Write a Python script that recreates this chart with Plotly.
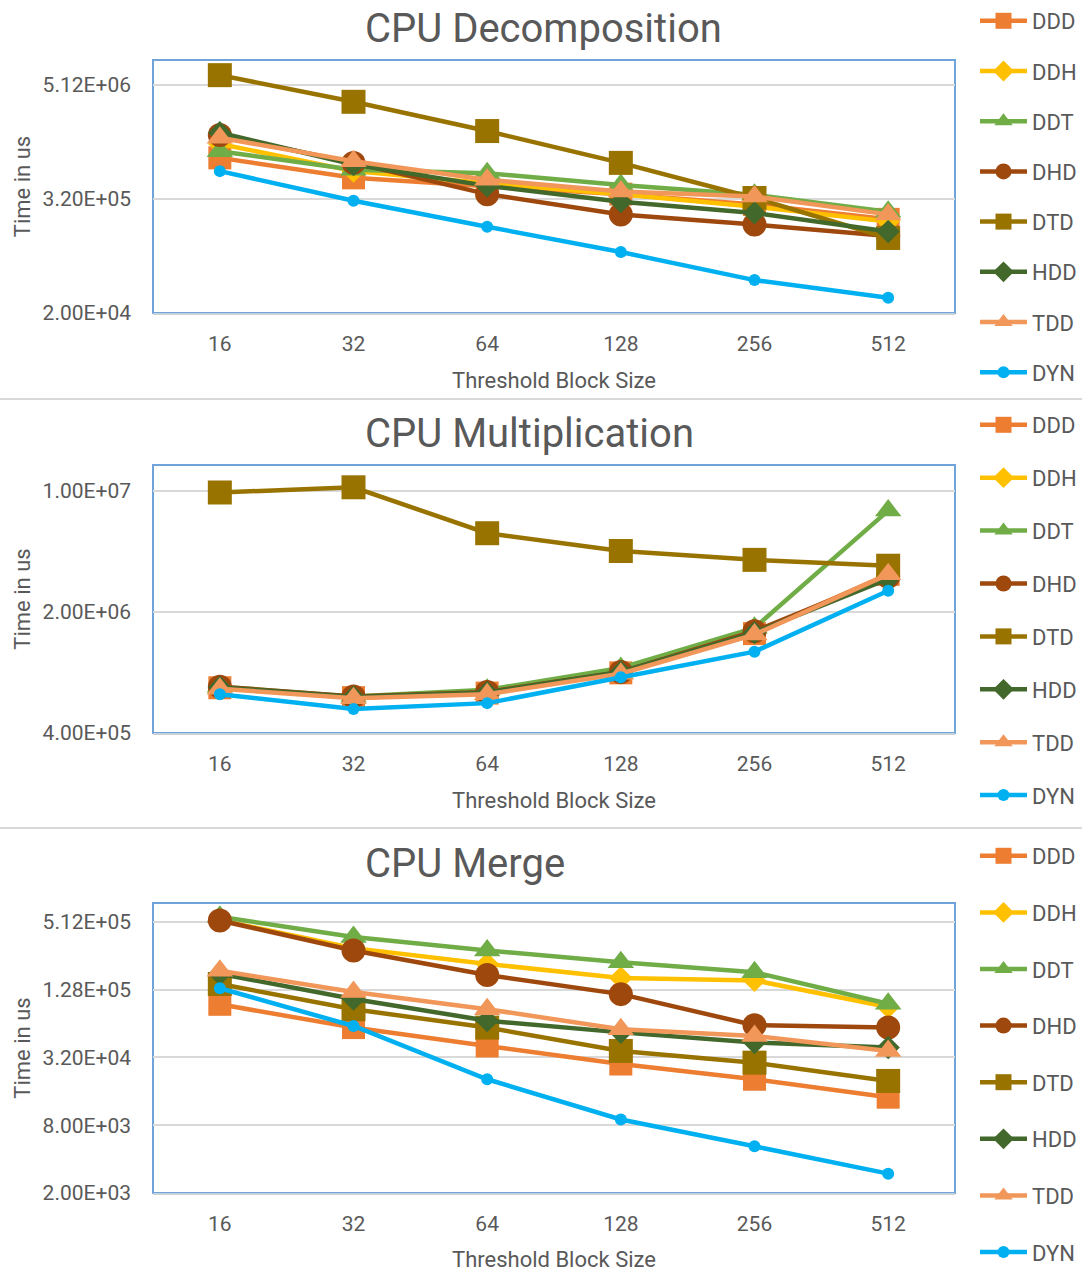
import plotly.graph_objects as go

# ---------------- data ----------------
block_sizes = ["16", "32", "64", "128", "256", "512"]
series_names = ["DDD", "DDH", "DDT", "DHD", "DTD", "HDD", "TDD", "DYN"]

# CPU Decomposition (time in us)
dec_DDD = [8.7e5, 5.35e5, 4.35e5, 3.6e5, 2.8e5, 1.95e5]
dec_DDH = [1.22e6, 6.3e5, 4.7e5, 3.6e5, 2.65e5, 1.85e5]
dec_DDT = [1.02e6, 6.5e5, 6.0e5, 4.5e5, 3.55e5, 2.35e5]
dec_DHD = [1.52e6, 7.7e5, 3.6e5, 2.2e5, 1.72e5, 1.3e5]
dec_DTD = [6.5e6, 3.4e6, 1.67e6, 7.7e5, 3.28e5, 1.24e5]
dec_HDD = [1.6e6, 7.4e5, 4.4e5, 3.0e5, 2.28e5, 1.45e5]
dec_TDD = [1.42e6, 8.0e5, 5.1e5, 3.85e5, 3.4e5, 2.2e5]
dec_DYN = [6.3e5, 3.07e5, 1.63e5, 8.8e4, 4.45e4, 2.9e4]

# CPU Multiplication (time in us)
mul_DDD = [7.3e5, 6.4e5, 6.8e5, 8.9e5, 1.5e6, 3.3e6]
mul_DDH = [7.3e5, 6.45e5, 6.8e5, 8.9e5, 1.52e6, 3.2e6]
mul_DDT = [7.4e5, 6.5e5, 7.1e5, 9.5e5, 1.62e6, 7.7e6]
mul_DHD = [7.4e5, 6.5e5, 6.9e5, 9.0e5, 1.55e6, 3.2e6]
mul_DTD = [9.8e6, 1.05e7, 5.7e6, 4.5e6, 4.0e6, 3.7e6]
mul_HDD = [7.35e5, 6.45e5, 6.85e5, 9.0e5, 1.52e6, 3.1e6]
mul_TDD = [7.2e5, 6.35e5, 6.7e5, 8.8e5, 1.48e6, 3.3e6]
mul_DYN = [6.7e5, 5.5e5, 5.95e5, 8.4e5, 1.18e6, 2.65e6]

# CPU Merge (time in us)
mer_DDD = [9.5e4, 5.9e4, 4.05e4, 2.8e4, 2.05e4, 1.42e4]
mer_DDH = [5.3e5, 3.0e5, 2.17e5, 1.63e5, 1.55e5, 9.0e4]
mer_DDT = [5.7e5, 3.76e5, 2.86e5, 2.25e5, 1.83e5, 9.6e4]
mer_DHD = [5.28e5, 2.86e5, 1.73e5, 1.17e5, 6.2e4, 5.9e4]
mer_DTD = [1.44e5, 8.6e4, 5.9e4, 3.66e4, 2.88e4, 1.98e4]
mer_HDD = [1.77e5, 1.06e5, 6.8e4, 5.35e4, 4.35e4, 3.93e4]
mer_TDD = [1.89e5, 1.22e5, 8.6e4, 5.7e4, 4.98e4, 3.66e4]
mer_DYN = [1.32e5, 6.1e4, 2.05e4, 9.0e3, 5.2e3, 2.97e3]

dec_ticks = [2.0e4, 3.2e5, 5.12e6]
dec_ticktext = ["2.00E+04", "3.20E+05", "5.12E+06"]
mul_ticks = [4.0e5, 2.0e6, 1.0e7]
mul_ticktext = ["4.00E+05", "2.00E+06", "1.00E+07"]
mer_ticks = [2.0e3, 8.0e3, 3.2e4, 1.28e5, 5.12e5]
mer_ticktext = ["2.00E+03", "8.00E+03", "3.20E+04", "1.28E+05", "5.12E+05"]

titles = ["CPU Decomposition", "CPU Multiplication", "CPU Merge"]
x_title = "Threshold Block Size"
y_title = "Time in us"

# ---------------- styles ----------------
colors = {"DDD": "#ED7D31", "DDH": "#FFC000", "DDT": "#70AD47", "DHD": "#9E480E",
          "DTD": "#997300", "HDD": "#43682B", "TDD": "#F1975A", "DYN": "#00B0F0"}
symbols = {"DDD": "square", "DDH": "diamond", "DDT": "triangle-up", "DHD": "circle",
           "DTD": "square", "HDD": "diamond", "TDD": "triangle-up", "DYN": "circle"}
sizes = {"DDD": 23, "DDH": 18, "DDT": 23, "DHD": 24, "DTD": 24, "HDD": 18, "TDD": 23, "DYN": 12}

FONT = "Roboto"
TXT = "#595959"
W, H = 1086, 1272

panels = [
    {"data": dict(DDD=dec_DDD, DDH=dec_DDH, DDT=dec_DDT, DHD=dec_DHD, DTD=dec_DTD, HDD=dec_HDD, TDD=dec_TDD, DYN=dec_DYN),
     "ticks": dec_ticks, "ticktext": dec_ticktext, "range": [4.301, 6.973], "top": 60, "bottom": 313,
     "legend": "legend", "gap": 18.6},
    {"data": dict(DDD=mul_DDD, DDH=mul_DDH, DDT=mul_DDT, DHD=mul_DHD, DTD=mul_DTD, HDD=mul_HDD, TDD=mul_TDD, DYN=mul_DYN),
     "ticks": mul_ticks, "ticktext": mul_ticktext, "range": [5.602, 7.150], "top": 465, "bottom": 733,
     "legend": "legend2", "gap": 21.3},
    {"data": dict(DDD=mer_DDD, DDH=mer_DDH, DDT=mer_DDT, DHD=mer_DHD, DTD=mer_DTD, HDD=mer_HDD, TDD=mer_TDD, DYN=mer_DYN),
     "ticks": mer_ticks, "ticktext": mer_ticktext, "range": [3.301, 5.878], "top": 903, "bottom": 1193,
     "legend": "legend3", "gap": 25.0},
]
legend_top_px = [0, 404, 835]
title_y_px = [29, 433, 863]

X0, X1 = 153, 955

fig = go.Figure()
layout = dict(
    width=W, height=H, margin=dict(l=0, r=0, t=0, b=0, autoexpand=False),
    paper_bgcolor="white", plot_bgcolor="white",
    font=dict(family=FONT, color=TXT, size=21),
    showlegend=True,
)
shapes = []
annotations = []

for i, p in enumerate(panels):
    n = "" if i == 0 else str(i + 1)
    xa, ya = "x" + n, "y" + n
    for name in series_names:
        fig.add_trace(go.Scatter(
            x=block_sizes, y=p["data"][name], name=name,
            mode="lines+markers", xaxis=xa, yaxis=ya,
            line=dict(color=colors[name], width=4.5),
            marker=dict(symbol=symbols[name], size=sizes[name], color=colors[name], line=dict(width=0)),
            legend=p["legend"], legendgroup=f"{i}-{name}",
        ))
    dom_y = [1 - p["bottom"] / H, 1 - p["top"] / H]
    layout["xaxis" + n] = dict(
        domain=[X0 / W, X1 / W], anchor=ya, type="category", range=[-0.5, 5.5],
        showgrid=False, zeroline=False, showline=True, linecolor="#C8D0DA", linewidth=2,
        ticks="", ticklabelstandoff=11, tickfont=dict(size=21, color=TXT),
        title=dict(text=x_title, font=dict(size=22, color=TXT), standoff=17),
        automargin=False, fixedrange=True,
    )
    layout["yaxis" + n] = dict(
        domain=dom_y, anchor=xa, type="log", range=p["range"],
        tickvals=p["ticks"], ticktext=p["ticktext"],
        showgrid=True, gridcolor="#D9D9D9", gridwidth=2, zeroline=False, showline=False,
        ticks="", ticklabelstandoff=21, tickfont=dict(size=21, color=TXT),
        title=dict(text=y_title, font=dict(size=22, color=TXT), standoff=5),
        automargin=False, fixedrange=True,
    )
    shapes.append(dict(type="rect", xref=xa + " domain", yref=ya + " domain",
                       x0=0, x1=1, y0=0, y1=1, line=dict(color="#6FA3DA", width=2), layer="below"))
    layout[p["legend"]] = dict(
        x=975 / W, xanchor="left", y=1 - legend_top_px[i] / H, yanchor="top",
        font=dict(size=22, color=TXT, family=FONT), bgcolor="rgba(0,0,0,0)",
        tracegroupgap=p["gap"], traceorder="grouped", itemwidth=47,
    )
    annotations.append(dict(text=titles[i], x=363 / W, y=1 - title_y_px[i] / H,
                            xref="paper", yref="paper", xanchor="left", yanchor="middle",
                            showarrow=False, font=dict(size=40, color=TXT, family=FONT)))

# separators between the three charts
for ypx in [399, 828]:
    shapes.append(dict(type="line", xref="paper", yref="paper", x0=0, x1=1082 / W,
                       y0=1 - ypx / H, y1=1 - ypx / H, line=dict(color="#D9D9D9", width=2)))

layout["shapes"] = shapes
layout["annotations"] = annotations
fig.update_layout(**layout)
fig.write_html("out.html")
